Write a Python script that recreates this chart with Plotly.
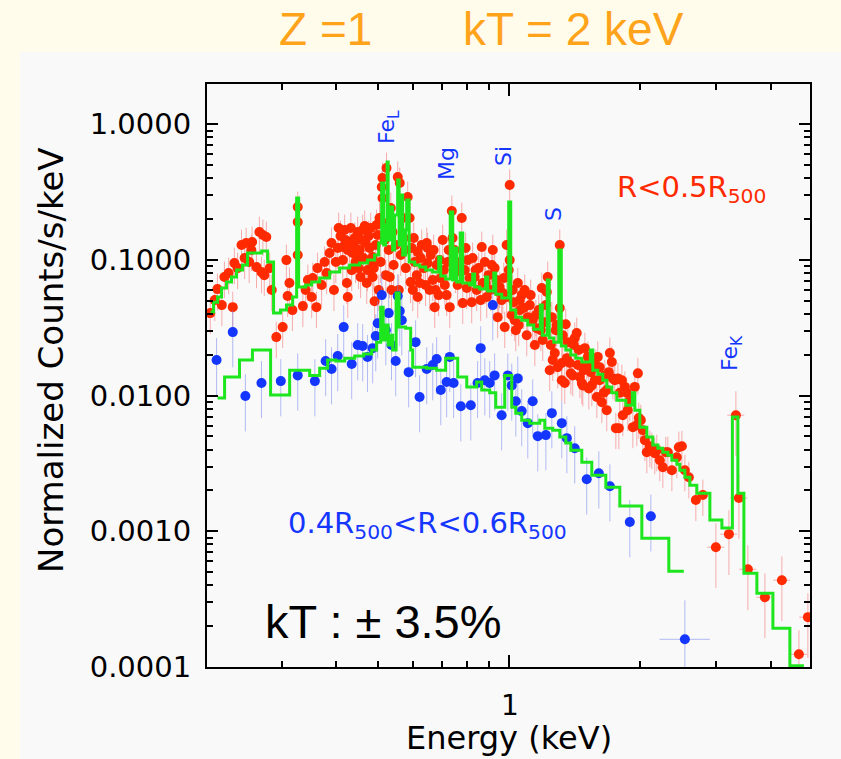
import plotly.graph_objects as go

# ---- observed spectrum, inner region (R < 0.5 R500) ----
red_energy = [
    0.205, 0.210, 0.213, 0.218, 0.221, 0.226, 0.231, 0.233, 0.237, 0.242, 0.246, 0.248, 0.252,
    0.255, 0.256, 0.262, 0.266, 0.269, 0.271, 0.273, 0.276, 0.281, 0.284, 0.291, 0.301, 0.307,
    0.309, 0.312, 0.317, 0.326, 0.326, 0.326,
    0.335, 0.340, 0.344, 0.351, 0.353, 0.360, 0.362, 0.370, 0.376, 0.380, 0.386, 0.390, 0.395,
    0.399, 0.403,
    0.409, 0.414, 0.414, 0.418, 0.423, 0.425, 0.425, 0.429, 0.434, 0.436, 0.441, 0.443, 0.448,
    0.453, 0.455, 0.460, 0.462, 0.467, 0.470, 0.472, 0.475, 0.480, 0.483, 0.485, 0.485, 0.490,
    0.493, 0.498, 0.501, 0.503,
    0.506, 0.509, 0.511, 0.511, 0.517, 0.520, 0.522, 0.525, 0.528, 0.531, 0.534, 0.539, 0.542,
    0.548, 0.554, 0.557, 0.560, 0.563, 0.569, 0.572, 0.578, 0.584, 0.590, 0.593, 0.597, 0.600,
    0.606, 0.613, 0.616, 0.616, 0.622, 0.629, 0.636, 0.646, 0.649, 0.649, 0.656, 0.660, 0.667,
    0.674, 0.677, 0.681, 0.692, 0.696, 0.703, 0.711, 0.718, 0.722, 0.730,
    0.738, 0.741, 0.749, 0.753, 0.761, 0.770, 0.778, 0.782, 0.790, 0.799, 0.803, 0.811, 0.820,
    0.824, 0.833, 0.842, 0.851, 0.865, 0.869, 0.879, 0.888, 0.897, 0.907, 0.917, 0.926, 0.936,
    0.941, 0.951, 0.961, 0.967, 0.977, 0.987, 0.987, 0.998, 1.003, 1.003,
    1.014, 1.019, 1.030, 1.036, 1.047, 1.058, 1.058, 1.069, 1.086, 1.098, 1.104, 1.116, 1.133,
    1.146, 1.158, 1.170, 1.189, 1.195, 1.208, 1.221, 1.227, 1.240, 1.254, 1.260, 1.274, 1.281,
    1.294, 1.308, 1.308,
    1.322, 1.322, 1.343, 1.350, 1.365, 1.379, 1.387, 1.401, 1.416, 1.431, 1.447, 1.455, 1.470,
    1.478, 1.494, 1.509, 1.518, 1.526, 1.542, 1.558, 1.575, 1.592, 1.600, 1.617, 1.617, 1.635,
    1.661, 1.678, 1.678, 1.706,
    1.724, 1.733, 1.751, 1.761, 1.780, 1.789, 1.818, 1.827, 1.847, 1.866, 1.896, 1.927, 1.947,
    1.968, 1.979, 1.989, 2.010, 2.032, 2.075, 2.109, 2.131, 2.165, 2.188, 2.259, 2.295, 2.320,
    2.370, 2.433, 2.459, 2.499, 2.539, 2.593, 2.691, 2.793,
    0.405, 0.420, 0.432, 0.439, 0.446, 0.450, 0.457, 0.465, 0.477, 0.488, 0.495, 0.536, 0.575,
    0.603, 0.626, 0.642, 0.670, 0.688, 0.707, 0.726, 0.757, 0.794, 0.837, 0.860, 0.883, 0.912,
    0.946, 0.972, 1.025, 1.052, 1.081, 1.121, 1.152, 1.183, 1.215, 1.247, 1.287, 1.329, 1.358,
    1.409, 1.439, 1.486, 1.550, 1.583, 1.652, 1.696, 1.798, 1.876, 2.054, 2.223,
]
red_counts = [
    0.0406, 0.0506, 0.0610, 0.0465, 0.0748, 0.0800, 0.0449, 0.0948, 0.0871, 0.1288, 0.1033, 0.1332, 0.0965,
    0.1183, 0.1355, 0.0886, 0.1606, 0.0814, 0.1526, 0.0773, 0.1475, 0.0871, 0.0600, 0.0270, 0.0320, 0.0998,
    0.0542, 0.0676, 0.0427, 0.2455, 0.1903, 0.1087,
    0.0457, 0.0600, 0.0711, 0.0533, 0.0735, 0.0449, 0.0871, 0.0653, 0.0965, 0.0800, 0.1124, 0.1332, 0.0600,
    0.0965, 0.1224,
    0.1500, 0.1245, 0.0998, 0.1661, 0.0676, 0.1183, 0.0533, 0.1355, 0.0842, 0.1124, 0.1450, 0.0965, 0.1606,
    0.1183, 0.0748, 0.1661, 0.1033, 0.1332, 0.0676, 0.0842, 0.1500, 0.1719, 0.0965, 0.1050, 0.0748, 0.0497,
    0.1288, 0.1526, 0.0600, 0.2037,
    0.0965, 0.3449, 0.4018, 0.2861, 0.1402, 0.0773, 0.4761, 0.1871, 0.1183, 0.0748, 0.2414, 0.1606, 0.0917,
    0.1288, 0.4087, 0.0600, 0.3691, 0.1087, 0.2037, 0.1450, 0.0871, 0.2910, 0.2037, 0.0687, 0.1224, 0.0600,
    0.0965, 0.0773, 0.1143, 0.0533, 0.0676, 0.1288, 0.0871, 0.1332, 0.1224, 0.0948, 0.0600, 0.1087, 0.0711,
    0.0449, 0.0600, 0.0917, 0.0998, 0.0735, 0.1402, 0.0653, 0.0551, 0.0965, 0.0449,
    0.2294, 0.1450, 0.1183, 0.0814, 0.0653, 0.0886, 0.2037, 0.0481, 0.0842, 0.0621, 0.0998, 0.0735, 0.0489,
    0.1033, 0.0748, 0.0600, 0.0871, 0.1245, 0.0676, 0.0965, 0.0533, 0.0773, 0.0600, 0.1183, 0.0871, 0.0711,
    0.0379, 0.0631, 0.0506, 0.0570, 0.0320, 0.1288, 0.0533, 0.0842, 0.3568, 0.0998,
    0.0392, 0.0600, 0.0360, 0.0304, 0.0676, 0.0506, 0.0427, 0.0551, 0.0600, 0.0279, 0.0379, 0.0465, 0.0360,
    0.0236, 0.0314, 0.0427, 0.0621, 0.0257, 0.0348, 0.0580, 0.0748, 0.0154, 0.0379, 0.0183, 0.0206, 0.0304,
    0.0162, 0.1288, 0.0442,
    0.0174, 0.0130, 0.0124, 0.0336, 0.0248, 0.0174, 0.0146, 0.0141, 0.0266, 0.0289, 0.0217, 0.0137, 0.0124,
    0.0119, 0.0224, 0.0168, 0.0193, 0.0113, 0.0149, 0.0162, 0.0130, 0.00977, 0.0193, 0.0162, 0.0130, 0.00895,
    0.0141, 0.0110, 0.00782, 0.0206,
    0.0177, 0.0134, 0.0130, 0.00576, 0.0134, 0.00576, 0.0130, 0.00718, 0.0116, 0.0105, 0.00926, 0.00586, 0.0116,
    0.00606, 0.0146, 0.00683, 0.00660, 0.00557, 0.00383, 0.00424, 0.00410, 0.00376, 0.00396, 0.00297, 0.00383, 0.00383,
    0.00282, 0.00351, 0.00417, 0.00424, 0.00282, 0.00250, 0.00170, 0.00185,
    0.1718, 0.1402, 0.1718, 0.1288, 0.1087, 0.0871, 0.1402, 0.1778, 0.1224, 0.0871, 0.1809, 0.0600, 0.1183,
    0.1450, 0.1033, 0.0653, 0.1183, 0.0551, 0.0842, 0.1183, 0.0965, 0.1224, 0.0842, 0.0506, 0.0676, 0.0917,
    0.0580, 0.0735, 0.0489, 0.0331, 0.0442, 0.0551, 0.0392, 0.0304, 0.0465, 0.0236, 0.0331, 0.0279, 0.0189,
    0.0236, 0.0168, 0.0154, 0.0119, 0.0168, 0.0105, 0.0149, 0.0105, 0.00782, 0.00470, 0.00334,
]

# wide high-energy bins of the inner spectrum
red_hi_energy = [2.993, 3.207, 3.328, 3.381, 3.546, 3.881, 4.247, 4.648, 4.875]
red_hi_counts = [0.000764, 0.000953, 0.00718, 0.00176, 0.000525, 0.000327, 0.000436, 0.000124, 0.000233]

# ---- observed spectrum, outer annulus (0.4 R500 < R < 0.6 R500) ----
blue_energy = [
    0.212, 0.231, 0.247, 0.269, 0.298, 0.326, 0.357, 0.378, 0.390, 0.403, 0.416, 0.434, 0.448,
    0.460, 0.472, 0.485, 0.493, 0.498, 0.509, 0.520, 0.528, 0.536, 0.548, 0.554, 0.560, 0.566,
    0.587, 0.609, 0.622, 0.646, 0.667, 0.681, 0.696, 0.718, 0.730, 0.745, 0.774, 0.816, 0.846,
    0.860, 0.879, 0.902, 0.917, 0.926, 0.961, 0.993, 1.014, 1.036, 1.047, 1.069, 1.104, 1.133,
    1.164, 1.215, 1.254, 1.322, 1.358, 1.416, 1.509, 1.609, 1.706, 1.896, 2.120,
]
blue_counts = [
    0.0183, 0.0294, 0.00993, 0.0124, 0.0128, 0.0141, 0.0128, 0.0180, 0.0157, 0.0196, 0.0320, 0.0171, 0.0236,
    0.0232, 0.0193, 0.0224, 0.0275, 0.0342, 0.0551, 0.0304, 0.0406, 0.0236, 0.0180, 0.0542, 0.0420, 0.0360,
    0.0149, 0.0248, 0.00977, 0.0157, 0.0168, 0.0186, 0.0110, 0.0126, 0.0193, 0.0124, 0.00836, 0.00850, 0.0124,
    0.0224, 0.0130, 0.0124, 0.0465, 0.0141, 0.00718, 0.0141, 0.0119, 0.00910, 0.0134, 0.00769, 0.00627, 0.00910,
    0.00503, 0.00512, 0.00743, 0.00627, 0.00486, 0.00410, 0.00242, 0.00268, 0.00215, 0.00117, 0.00129,
]
blue_last_energy = [2.539]
blue_last_counts = [0.000160]

# ---- folded thermal models (bin left edges, step values) ----
model_inner_energy = [
    0.2053, 0.2086, 0.2131, 0.2177, 0.2235, 0.2295, 0.2357, 0.2433, 0.2498, 0.2692, 0.2779, 0.2868,
    0.2976, 0.3071, 0.3173, 0.3241, 0.3276, 0.3400, 0.3510, 0.3662, 0.3862, 0.4072, 0.4293, 0.4526,
    0.4722, 0.4902, 0.5007, 0.5087, 0.5141, 0.5196, 0.5237, 0.5266, 0.5335, 0.5392, 0.5450, 0.5537,
    0.5581, 0.5627, 0.5687, 0.5778, 0.5809, 0.5886, 0.6061, 0.6223, 0.6425, 0.6667, 0.6883, 0.6957,
    0.7141, 0.7317, 0.7415, 0.7493, 0.7573, 0.7715, 0.7819, 0.8112, 0.8243, 0.8330, 0.8556, 0.8826,
    0.8927, 0.9216, 0.9315, 0.9614, 0.9978, 1.0085, 1.0357, 1.0691, 1.1037, 1.1395, 1.1796, 1.1922,
    1.2242, 1.2371, 1.2671, 1.3011, 1.3186, 1.3505, 1.3866, 1.4240, 1.4701, 1.5378, 1.5584, 1.6003,
    1.6434, 1.6784, 1.7237, 1.7700, 1.8566, 1.9217, 1.9473, 1.9997, 2.0753, 2.1426, 2.2001, 2.2591,
    2.3198, 2.3696, 2.4331, 2.4724, 2.5389, 2.6070, 2.7055, 2.8990, 3.0897, 3.2664, 3.3631, 3.4720,
    3.7195, 4.0493, 4.4310, 4.7727,
]
model_inner_counts = [
    0.0413, 0.0489, 0.0533, 0.0621, 0.0687, 0.0748, 0.0842, 0.0917, 0.1124, 0.1163, 0.0965, 0.0406,
    0.0427, 0.0465, 0.0533, 0.2861, 0.0631, 0.0653, 0.0687, 0.0735, 0.0814, 0.0871, 0.0917, 0.0948,
    0.0998, 0.1087, 0.1332, 0.3691, 0.1288, 0.1809, 0.5272, 0.1402, 0.2455, 0.1183, 0.2143, 0.3884,
    0.1288, 0.3010, 0.1087, 0.1661, 0.2765, 0.0965, 0.0917, 0.0886, 0.0842, 0.0814, 0.1050, 0.0761,
    0.0723, 0.2255, 0.0711, 0.1224, 0.0687, 0.1578, 0.0676, 0.0653, 0.0787, 0.0631, 0.0610, 0.0748,
    0.0590, 0.0800, 0.0560, 0.0524, 0.2673, 0.0427, 0.0379, 0.0360, 0.0331, 0.0309, 0.0465, 0.0279,
    0.0711, 0.0266, 0.0248, 0.1183, 0.0232, 0.0217, 0.0199, 0.0189, 0.0177, 0.0217, 0.0154, 0.0144,
    0.0130, 0.0116, 0.0105, 0.00926, 0.00851, 0.0105, 0.00782, 0.00586, 0.00495, 0.00432, 0.00410, 0.00383,
    0.00364, 0.00334, 0.00312, 0.00282, 0.00250, 0.00219, 0.00191, 0.00121, 0.00106, 0.00695, 0.00191, 0.000490,
    0.000350, 0.000193, 0.000102, 0.000102,
]

model_outer_energy = [
    0.2131, 0.2212, 0.2394, 0.2564, 0.2823, 0.3123, 0.3473, 0.3662, 0.3821, 0.3987, 0.4183, 0.4410,
    0.4623, 0.4825, 0.4953, 0.5060, 0.5128, 0.5196, 0.5266, 0.5335, 0.5392, 0.5493, 0.5581, 0.5778,
    0.5933, 0.5997, 0.6459, 0.6810, 0.7141, 0.7614, 0.7988, 0.8418, 0.8647, 0.9022, 0.9315, 0.9769,
    1.0139, 1.0357, 1.0691, 1.1155, 1.1764, 1.2080, 1.2604, 1.3081, 1.3505, 1.3866, 1.4701, 1.5500,
    1.6697, 1.7983, 2.0210, 2.3320, 2.5256,
]
model_outer_counts = [
    0.00960, 0.0137, 0.0183, 0.0217, 0.0101, 0.0154, 0.0141, 0.0159, 0.0183, 0.0180, 0.0189, 0.0196,
    0.0203, 0.0217, 0.0248, 0.0449, 0.0257, 0.0331, 0.0236, 0.0279, 0.0217, 0.0570, 0.0320, 0.0314,
    0.0217, 0.0162, 0.0159, 0.0154, 0.0189, 0.0137, 0.0116, 0.0126, 0.0110, 0.0105, 0.00823, 0.0141,
    0.00823, 0.00743, 0.00660, 0.00627, 0.00660, 0.00576, 0.00557, 0.00495, 0.00447, 0.00396, 0.00323, 0.00259,
    0.00211, 0.00154, 0.000890, 0.000507, 0.000507,
]

y_tick_vals = [1e-4, 1e-3, 1e-2, 1e-1, 1.0]
y_tick_text = ["0.0001", "0.0010", "0.0100", "0.1000", "1.0000"]
y_minor_vals = [m * d for d in (1e-4, 1e-3, 1e-2, 1e-1) for m in range(2, 10)] + [2.0]
x_minor_vals = [0.3, 0.4, 0.5, 0.6, 0.7, 0.8, 0.9, 2, 3, 4]

RED = "#ff2a00"
BLUE = "#1436ff"
GREEN = "#1ee61e"
AXFONT = "DejaVu Sans"
RED_ERR = "rgba(245,120,120,0.6)"
BLUE_ERR = "rgba(120,135,240,0.55)"

fig = go.Figure()

fig.add_trace(go.Scatter(
    x=red_energy, y=red_counts, mode="markers",
    marker=dict(color=RED, size=10, line=dict(width=0)),
    error_y=dict(type="percent", value=30, color=RED_ERR, thickness=1, width=0),
))
fig.add_trace(go.Scatter(
    x=red_hi_energy, y=red_hi_counts, mode="markers",
    marker=dict(color=RED, size=10, line=dict(width=0)),
    error_y=dict(type="percent", value=50, color=RED_ERR, thickness=1, width=0),
    error_x=dict(type="percent", value=4.5, color=RED_ERR, thickness=1, width=0),
))
fig.add_trace(go.Scatter(
    x=blue_energy, y=blue_counts, mode="markers",
    marker=dict(color=BLUE, size=10, line=dict(width=0)),
    error_y=dict(type="percent", value=45, color=BLUE_ERR, thickness=1, width=0),
    error_x=dict(type="percent", value=2.5, color=BLUE_ERR, thickness=1, width=0),
))
fig.add_trace(go.Scatter(
    x=blue_last_energy, y=blue_last_counts, mode="markers",
    marker=dict(color=BLUE, size=10, line=dict(width=0)),
    error_y=dict(type="data", array=[0.00015], arrayminus=[0.0001], color=BLUE_ERR, thickness=1, width=0),
    error_x=dict(type="data", array=[0.36], arrayminus=[0.32], color=BLUE_ERR, thickness=1, width=0),
))
fig.add_trace(go.Scatter(
    x=model_outer_energy, y=model_outer_counts, mode="lines",
    line=dict(color=GREEN, width=3, shape="hv"),
))
fig.add_trace(go.Scatter(
    x=model_inner_energy, y=model_inner_counts, mode="lines",
    line=dict(color=GREEN, width=3, shape="hv"),
))

# paper-coordinate helpers for a plot area spanning x 207..810 px and y 84..667 px
def px(xp):
    return (xp - 207) / 603.0

def py(yp):
    return (667 - yp) / 583.0

annotations = [
    dict(text="Z =1", x=px(325), y=py(29), font=dict(family="Liberation Sans", size=46, color="#ffa31a")),
    dict(text="kT = 2 keV", x=px(573), y=py(29), font=dict(family="Liberation Sans", size=46, color="#ffa31a")),
    dict(text="Fe<sub>L</sub>", x=px(389), y=py(127), textangle=-90, font=dict(family=AXFONT, size=22, color=BLUE)),
    dict(text="Mg", x=px(447), y=py(164), textangle=-90, font=dict(family=AXFONT, size=22, color=BLUE)),
    dict(text="Si", x=px(503), y=py(156), textangle=-90, font=dict(family=AXFONT, size=22, color=BLUE)),
    dict(text="S", x=px(553), y=py(214), textangle=-90, font=dict(family=AXFONT, size=22, color=BLUE)),
    dict(text="Fe<sub>K</sub>", x=px(731), y=py(353), textangle=-90, font=dict(family=AXFONT, size=22, color=BLUE)),
    dict(text="R&lt;0.5R<sub>500</sub>", x=px(691), y=py(189), font=dict(family=AXFONT, size=29, color=RED)),
    dict(text="0.4R<sub>500</sub>&lt;R&lt;0.6R<sub>500</sub>", x=px(427), y=py(525),
         font=dict(family=AXFONT, size=29, color=BLUE)),
    dict(text="kT : ± 3.5%", x=px(383), y=py(621), font=dict(family="Liberation Sans", size=47, color="black")),
    dict(text="1", x=px(509.5), y=py(705), font=dict(family=AXFONT, size=28, color="black")),
    dict(text="Energy (keV)", x=px(509), y=py(738), font=dict(family=AXFONT, size=32, color="black")),
    dict(text="Normalized Counts/s/keV", x=px(51), y=py(360), textangle=-90,
         font=dict(family=AXFONT, size=34, color="black")),
]
for a in annotations:
    a.update(xref="paper", yref="paper", showarrow=False, xanchor="center", yanchor="middle")

fig.update_layout(
    width=841, height=759,
    margin=dict(l=207, r=31, t=84, b=92),
    paper_bgcolor="#fffcec",
    plot_bgcolor="#f9f9f9",
    showlegend=False,
    annotations=annotations,
    shapes=[dict(type="rect", xref="paper", yref="paper", x0=px(20), x1=px(845), y0=py(765), y1=py(52),
                 fillcolor="#f9f9f9", line=dict(width=0), layer="below")],
    xaxis=dict(
        type="log", range=[-0.6957, 0.6928],
        tickvals=[1], showticklabels=False, ticks="inside", ticklen=12, tickwidth=1.5, tickcolor="black",
        showline=True, linecolor="black", linewidth=2, mirror="ticks",
        showgrid=False, zeroline=False,
        minor=dict(tickvals=x_minor_vals, ticks="inside", ticklen=6, tickwidth=1.5, tickcolor="black", showgrid=False),
    ),
    yaxis=dict(
        type="log", range=[-4, 0.297],
        tickvals=y_tick_vals, ticktext=y_tick_text, ticks="inside", ticklen=11, tickwidth=1.5, tickcolor="black",
        tickfont=dict(family=AXFONT, size=29, color="black"), ticklabelstandoff=8,
        showline=True, linecolor="black", linewidth=2, mirror="ticks",
        showgrid=False, zeroline=False,
        minor=dict(tickvals=y_minor_vals, ticks="inside", ticklen=6, tickwidth=1.5, tickcolor="black", showgrid=False),
    ),
)

fig.write_html("out.html")
